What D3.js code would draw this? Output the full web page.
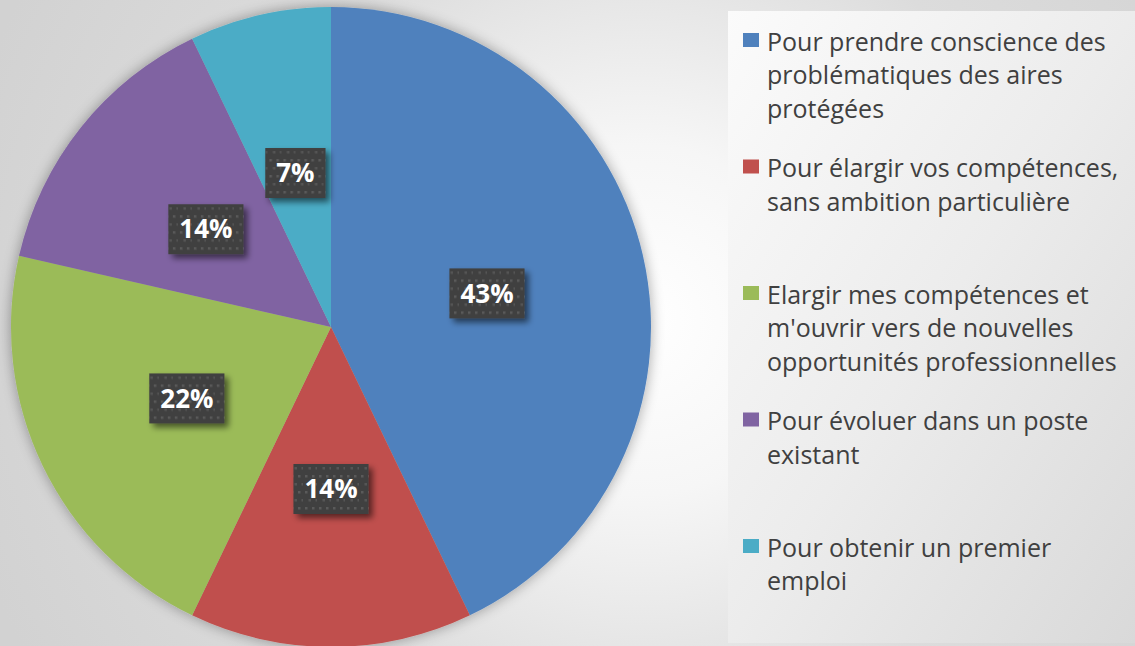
<!DOCTYPE html>
<html>
<head>
<meta charset="utf-8">
<script src="https://cdn.jsdelivr.net/npm/d3@7"></script>
<style>
  html, body { margin: 0; padding: 0; background: #e6e6e6; }
  svg { display: block; }
</style>
</head>
<body>
<div id="chart"></div>
<script>
// Data (14 answers)
const categories = [
    "Pour prendre conscience des problématiques des aires protégées",
    "Pour élargir vos compétences, sans ambition particulière",
    "Elargir mes compétences et m'ouvrir vers de nouvelles opportunités professionnelles",
    "Pour évoluer dans un poste existant",
    "Pour obtenir un premier emploi"
];
const legend_lines = [
    ["Pour prendre conscience des", "problématiques des aires", "protégées"],
    ["Pour élargir vos compétences,", "sans ambition particulière"],
    ["Elargir mes compétences et", "m'ouvrir vers de nouvelles", "opportunités professionnelles"],
    ["Pour évoluer dans un poste", "existant"],
    ["Pour obtenir un premier", "emploi"]
];
const counts = [6, 2, 3, 2, 1];
const value_labels = ["43%", "14%", "22%", "14%", "7%"];
const colors = ["#4F81BD", "#C0504D", "#9BBB59", "#8064A2", "#4BACC6"];

function drawChart() {
    const width = 1135, height = 646;
    const center = {x: 331, y: 327};
    const radius = 320;

    const svg = d3.select("#chart").append("svg")
        .attr("width", width)
        .attr("height", height);

    const defs = svg.append("defs");

    // background gradient (white glow behind the right side of the pie)
    const bg = defs.append("radialGradient").attr("id", "bg_grad")
        .attr("gradientUnits", "userSpaceOnUse")
        .attr("cx", 640).attr("cy", 320).attr("r", 700);
    bg.append("stop").attr("offset", 0).attr("stop-color", "#ffffff");
    bg.append("stop").attr("offset", 0.25).attr("stop-color", "#f6f6f6");
    bg.append("stop").attr("offset", 0.6).attr("stop-color", "#dcdcdc");
    bg.append("stop").attr("offset", 1).attr("stop-color", "#d2d2d2");

    // legend box gradient
    const lg = defs.append("linearGradient").attr("id", "legend_grad")
        .attr("x1", 0).attr("y1", 0).attr("x2", 1).attr("y2", 1);
    lg.append("stop").attr("offset", 0).attr("stop-color", "#fbfbfb");
    lg.append("stop").attr("offset", 0.5).attr("stop-color", "#ececec");
    lg.append("stop").attr("offset", 1).attr("stop-color", "#d9d9d9");

    // soft shadow around the pie
    const pie_shadow = defs.append("filter").attr("id", "pie_shadow")
        .attr("x", "-10%").attr("y", "-10%").attr("width", "120%").attr("height", "120%");
    pie_shadow.append("feGaussianBlur").attr("in", "SourceAlpha").attr("stdDeviation", 7).attr("result", "blur");
    pie_shadow.append("feComponentTransfer").attr("in", "blur").attr("result", "soft")
        .append("feFuncA").attr("type", "linear").attr("slope", 0.35);
    const pm = pie_shadow.append("feMerge");
    pm.append("feMergeNode").attr("in", "soft");
    pm.append("feMergeNode").attr("in", "SourceGraphic");

    // shadow of the data label boxes
    const box_shadow = defs.append("filter").attr("id", "box_shadow")
        .attr("x", "-30%").attr("y", "-30%").attr("width", "170%").attr("height", "170%");
    box_shadow.append("feGaussianBlur").attr("in", "SourceAlpha").attr("stdDeviation", 3).attr("result", "blur");
    box_shadow.append("feOffset").attr("in", "blur").attr("dx", 4).attr("dy", 4).attr("result", "off");
    box_shadow.append("feComponentTransfer").attr("in", "off").attr("result", "soft")
        .append("feFuncA").attr("type", "linear").attr("slope", 0.55);
    const bm = box_shadow.append("feMerge");
    bm.append("feMergeNode").attr("in", "soft");
    bm.append("feMergeNode").attr("in", "SourceGraphic");

    // dotted pattern of the label boxes
    const pat = defs.append("pattern").attr("id", "dots")
        .attr("patternUnits", "userSpaceOnUse")
        .attr("width", 14).attr("height", 16);
    pat.append("rect").attr("width", 14).attr("height", 16).attr("fill", "#404040");
    pat.append("rect").attr("x", 2).attr("y", 2).attr("width", 2.5).attr("height", 2.5).attr("fill", "#5a5a5a");
    pat.append("rect").attr("x", 9).attr("y", 2).attr("width", 2.5).attr("height", 2.5).attr("fill", "#5a5a5a");
    pat.append("rect").attr("x", 5.5).attr("y", 10).attr("width", 2.5).attr("height", 2.5).attr("fill", "#555555");
    pat.append("rect").attr("x", 12.5).attr("y", 10).attr("width", 1.5).attr("height", 2.5).attr("fill", "#555555");

    // background
    svg.append("rect").attr("width", width).attr("height", height).attr("fill", "url(#bg_grad)");
    svg.append("rect")
        .attr("x", 728).attr("y", 11)
        .attr("width", width - 728).attr("height", 632)
        .attr("fill", "url(#legend_grad)");

    /* ---------------------------------------------------------------------------
    Pie
    --------------------------------------------------------------------------- */
    const pie = d3.pie().sort(null).value(d => d);
    const arcs = pie(counts);

    const arc = d3.arc().innerRadius(0).outerRadius(radius);
    const label_arc = d3.arc().innerRadius(160).outerRadius(160);

    const g = svg.append("g")
        .attr("transform", "translate(" + center.x + "," + center.y + ")");

    g.append("g")
        .attr("filter", "url(#pie_shadow)")
        .selectAll("path")
        .data(arcs)
        .enter()
        .append("path")
        .attr("d", arc)
        .attr("fill", (d, i) => colors[i]);

    // data labels
    const labels = g.selectAll(".lbl")
        .data(arcs)
        .enter()
        .append("g")
        .attr("class", "lbl")
        .attr("transform", d => {
            const c = label_arc.centroid(d);
            return "translate(" + c[0] + "," + (c[1] + 2) + ")";
        });

    labels.append("rect")
        .attr("fill", "url(#dots)")
        .attr("filter", "url(#box_shadow)");

    labels.append("text")
        .attr("text-anchor", "middle")
        .attr("dy", "0.35em")
        .style("font-family", "'Open Sans', 'Noto Sans', sans-serif")
        .style("font-weight", "bold")
        .style("font-size", "26px")
        .style("fill", "#ffffff")
        .text((d, i) => value_labels[i]);

    labels.each(function() {
        const t = d3.select(this).select("text").node();
        const w = t.getComputedTextLength();
        d3.select(this).select("rect")
            .attr("x", -w / 2 - 11)
            .attr("y", -25)
            .attr("width", w + 22)
            .attr("height", 50);
    });

    /* ---------------------------------------------------------------------------
    Legend
    --------------------------------------------------------------------------- */
    const legend = svg.append("g")
        .attr("transform", "translate(743,0)");

    const items = legend.selectAll(".item")
        .data(categories)
        .enter()
        .append("g")
        .attr("class", "item")
        .attr("transform", (d, i) => "translate(0," + (42 + i * 126.5) + ")");

    items.append("rect")
        .attr("x", 0).attr("y", -9)
        .attr("width", 16).attr("height", 14)
        .attr("fill", (d, i) => colors[i]);

    items.append("text")
        .style("font-family", "'Open Sans', 'Noto Sans', sans-serif")
        .style("font-size", "25px")
        .style("fill", "#404040")
        .selectAll("tspan")
        .data((d, i) => legend_lines[i])
        .enter()
        .append("tspan")
        .attr("x", 24)
        .attr("y", (d, j) => j * 33.5)
        .attr("dy", "0.35em")
        .text(d => d);
}

drawChart();
</script>
</body>
</html>
